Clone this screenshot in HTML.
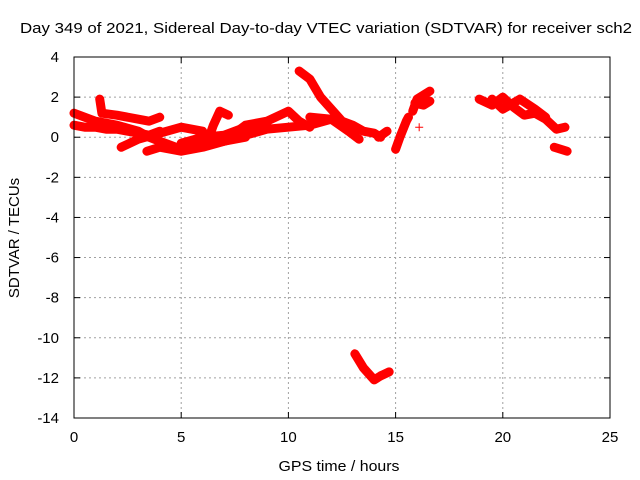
<!DOCTYPE html>
<html><head><meta charset="utf-8"><style>
body{margin:0;background:#fff}
svg{display:block;font-family:"Liberation Sans",sans-serif}
</style></head><body>
<svg id="chart" width="640" height="480">
<text x="20" y="33" font-size="15" textLength="612" lengthAdjust="spacingAndGlyphs">Day 349 of 2021, Sidereal Day-to-day VTEC variation (SDTVAR) for receiver sch2</text>
<text x="339" y="471" font-size="15" textLength="121" lengthAdjust="spacingAndGlyphs" text-anchor="middle">GPS time / hours</text>
<text x="0" y="0" font-size="15" text-anchor="middle" transform="translate(19,238) rotate(-90)">SDTVAR / TECUs</text>
<g id="grid"></g><g id="marks"></g>
<rect x="74" y="57" width="536" height="361" fill="none" stroke="#000"/>
</svg>
<script>
const xTicks=[0,5,10,15,20,25];
const yTicks=[4,2,0,-2,-4,-6,-8,-10,-12,-14];
const t1x=[0,0.5,1,1.5,2,2.5,3,3.5,4], t1y=[0.6,0.5,0.5,0.4,0.4,0.3,0.2,0.1,0.3];
const t2x=[1.2,1.3,2,3,3.5,4], t2y=[1.9,1.2,1.1,0.9,0.8,1.0];
const t3x=[0,1,2,3,3.5,4,5,6,7,8], t3y=[1.2,0.8,0.6,0.3,0,-0.2,-0.6,-0.4,-0.2,0];
const t4x=[2.2,3,4,5,6], t4y=[-0.5,-0.1,0.2,0.5,0.3];
const t5x=[3.4,4,5,6,7,8,9,10,11,12], t5y=[-0.7,-0.5,-0.7,-0.5,-0.2,0.1,0.4,0.5,0.6,0.9];
const t6x=[6.3,6.5,6.8,7.2], t6y=[0,0.6,1.3,1.1];
const t7x=[7.5,8,9,10,10.5,11], t7y=[0.2,0.6,0.8,1.3,0.8,0.5];
const t8x=[10.5,11,11.5,12,12.5,13,13.5,14,14.3], t8y=[3.3,2.9,2.0,1.4,0.8,0.6,0.3,0.2,0.0];
const t9x=[11,12,12.8,13.3], t9y=[1.0,0.9,0.3,-0.1];
const t10x=[5,6,7,8,9], t10y=[-0.3,0,0.1,0.5,0.7];
const t11x=[15.0,15.2,15.5,15.6], t11y=[-0.6,0,0.8,1.0];
const t12x=[14.2,14.6], t12y=[0,0.3];
const t13x=[15.8,16,16.3,16.6], t13y=[1.3,1.9,2.1,2.3];
const t13bx=[15.9,16.3,16.6], t13by=[1.7,1.6,1.8];
const t14x=[18.9,19.5,20,20.5,21,21.5,22,22.5,22.9], t14y=[1.9,1.6,2.0,1.5,1.1,1.2,0.9,0.4,0.5];
const t15x=[19.5,20,20.8,21.5,22], t15y=[1.9,1.4,1.9,1.4,1.0];
const t16x=[22.4,22.7,23.0], t16y=[-0.5,-0.6,-0.7];
const t17x=[13.1,13.5,14,14.3,14.7], t17y=[-10.8,-11.5,-12.1,-11.9,-11.7];
const t18x=[16.1], t18y=[0.5];
const tracks=[[t1x,t1y],[t2x,t2y],[t3x,t3y],[t4x,t4y],[t5x,t5y],[t6x,t6y],[t7x,t7y],[t8x,t8y],[t9x,t9y],[t10x,t10y],[t11x,t11y],[t12x,t12y],[t13x,t13y],[t13bx,t13by],[t14x,t14y],[t15x,t15y],[t16x,t16y],[t17x,t17y]];
const NS='http://www.w3.org/2000/svg';
const X0=74,X1=610,Y0=57,Y1=418;
function sx(v){return X0+(v-0)/25*(X1-X0);}
function sy(v){return Y0+(4-v)/18*(Y1-Y0);}
const grid=document.getElementById('grid'), marks=document.getElementById('marks');
function mk(tag,attrs,parent){const e=document.createElementNS(NS,tag);for(const k in attrs)e.setAttribute(k,attrs[k]);parent.appendChild(e);return e;}
xTicks.forEach(t=>{
  const x=sx(t);
  if(t>0&&t<25){const g=mk('line',{x1:x,x2:x,y1:Y0,y2:Y1,stroke:'#a0a0a0','stroke-dasharray':'2,3'},grid);
  
  }
  mk('line',{x1:x,x2:x,y1:Y1,y2:Y1-6,stroke:'#000'},grid);
  mk('line',{x1:x,x2:x,y1:Y0,y2:Y0+6,stroke:'#000'},grid);
  const l=mk('text',{x:x,y:Y1+24,'font-size':15,'text-anchor':'middle'},grid);
  l.textContent=t;
  
  
});
yTicks.forEach(t=>{
  const y=sy(t);
  if(t<4&&t>-14){const g=mk('line',{x1:X0,x2:X1,y1:y,y2:y,stroke:'#a0a0a0','stroke-dasharray':'2,3'},grid);
  
  }
  mk('line',{x1:X0,x2:X0+6,y1:y,y2:y,stroke:'#000'},grid);
  mk('line',{x1:X1,x2:X1-6,y1:y,y2:y,stroke:'#000'},grid);
  const l=mk('text',{x:X0-15,y:y+5,'font-size':15,'text-anchor':'end'},grid);
  l.textContent=t;
  
  
});
function plus(x,y){
  const p=mk('path',{d:`M${x-4},${y}h8M${x},${y-4}v8`,stroke:'#f00','stroke-width':1,fill:'none'},marks);
  
  
}
tracks.forEach(([xs,ys])=>{
  const pts=xs.map((v,i)=>sx(v)+','+sy(ys[i])).join(' ');
  const pl=mk('polyline',{points:pts,fill:'none',stroke:'#f00','stroke-width':9,'stroke-linejoin':'round','stroke-linecap':'round'},marks);
  
  
  xs.forEach((v,i)=>plus(sx(v),sy(ys[i])));
});
t18x.forEach((v,i)=>plus(sx(v),sy(t18y[i])));
</script>
</body></html>
